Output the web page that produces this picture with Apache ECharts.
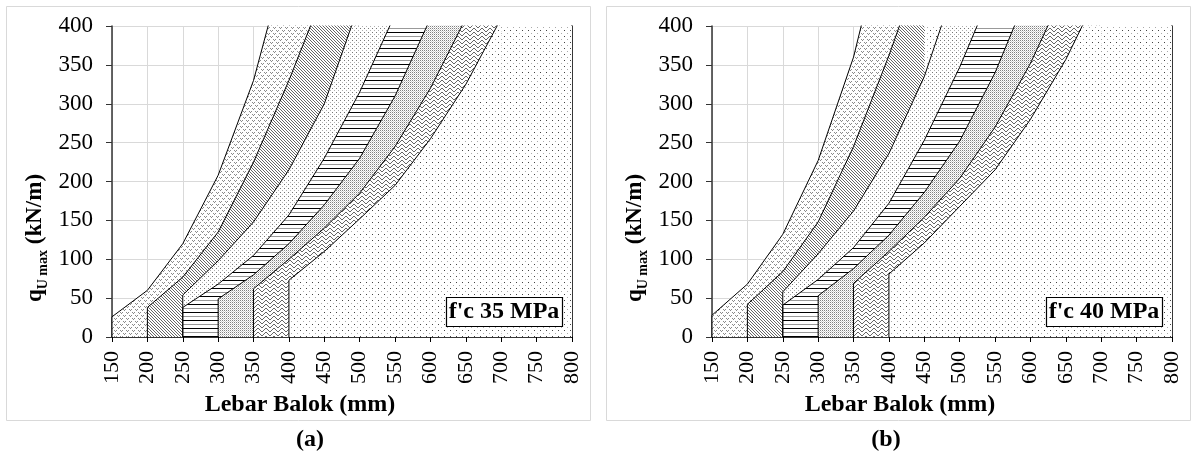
<!DOCTYPE html>
<html><head><meta charset="utf-8">
<script src="https://cdn.jsdelivr.net/npm/echarts@6/dist/echarts.min.js"></script>
<style>html,body{margin:0;padding:0;background:#fff}#c{width:1200px;height:456px}</style>
</head><body><div id="c"></div>
<script>
// axes
const X_MIN = 150, X_MAX = 800, X_STEP = 50;
const Y_MIN = 0, Y_MAX = 400, Y_STEP = 50;
const xAxisName = 'Lebar Balok (mm)';
const captions = ['(a)', '(b)'];
const boxLabels = ["f'c 35 MPa", "f'c 40 MPa"];

// panel (a) f'c 35 MPa : boundary curves [width mm, q kN/m]
const a1 = [[150,26],[200,60],[250,120],[300,208],[350,330],[400,500],[450,700]];
const a2 = [[200,38],[250,77],[300,135],[350,225],[400,330],[450,445],[500,580]];
const a3 = [[250,54],[300,98],[350,148],[400,215],[450,300],[500,430],[550,570]];
const a4 = [[250,38],[300,68],[350,105],[400,157],[450,230],[500,315],[550,415],[600,530]];
const a5 = [[300,49],[350,80],[400,120],[450,170],[500,230],[550,310],[600,410],[650,520]];
const a6 = [[350,62],[400,100],[450,140],[500,185],[550,245],[600,320],[650,410],[700,510]];
const a7 = [[400,73],[450,110],[500,152],[550,195],[600,255],[650,325],[700,410]];

// panel (b) f'c 40 MPa
const b1 = [[150,28],[200,68],[250,132],[300,227],[350,360],[400,545],[450,760]];
const b2 = [[200,42],[250,84],[300,148],[350,245],[400,362],[450,490]];
const b3 = [[250,58],[300,107],[350,162],[400,236],[450,335],[500,470],[550,620]];
const b4 = [[250,41],[300,74],[350,115],[400,172],[450,253],[500,347],[550,455],[600,580]];
const b5 = [[300,53],[350,88],[400,131],[450,186],[500,252],[550,340],[600,450],[650,570]];
const b6 = [[350,69],[400,110],[450,154],[500,204],[550,270],[600,352],[650,450],[700,560]];
const b7 = [[400,81],[450,121],[500,168],[550,215],[600,280],[650,357],[700,450]];

const FONT = '"Liberation Serif", "Times New Roman", serif';

function tile(w, h, draw) {
  const c = document.createElement('canvas');
  c.width = w; c.height = h;
  const g = c.getContext('2d');
  g.fillStyle = '#fff'; g.fillRect(0, 0, w, h);
  draw((x, y, col) => { g.fillStyle = col; g.fillRect(x, y, 1, 1); }, g);
  return { image: c, repeat: 'repeat' };
}
const patterns = [
  // R1 small v/x marks
  tile(6, 6, p => { [[0,0],[2,0],[1,1]].forEach(([x,y]) => { p(x,y,'#8a8a8a'); p(x+3,y+3,'#8a8a8a'); }); }),
  // R2 dense back-diagonal
  tile(3, 3, p => { p(0,0,'#666'); p(1,1,'#666'); p(2,2,'#666'); }),
  // R3 sparse dots
  tile(4, 4, p => { p(0,0,'#777'); p(2,2,'#b0b0b0'); }),
  // R4 horizontal lines
  tile(4, 8, (p, g) => { g.fillStyle = '#000'; g.fillRect(0,0,4,1); g.fillStyle = '#999'; g.fillRect(0,4,4,1); }),
  // R5 fine stipple
  tile(2, 2, p => { p(0,0,'#808080'); p(1,1,'#d0d0d0'); }),
  // R6 wave
  tile(8, 4, p => { [1,0,0,1,2,3,3,2].forEach((y,x) => p(x,y,'#666')); }),
  // R7 sparse dot grid
  tile(6, 6, p => { p(0,0,'#444'); p(3,3,'#aaa'); })
];

const panels = [
  { curves: [a1,a2,a3,a4,a5,a6,a7], left: 112 },
  { curves: [b1,b2,b3,b4,b5,b6,b7], left: 712 }
];

const grids = [], xAxes = [], yAxes = [], series = [], graphics = [];
panels.forEach((pn, g) => {
  grids.push({ left: pn.left, top: 26, width: 460, height: 311 });
  xAxes.push({
    type: 'value', gridIndex: g, min: X_MIN, max: X_MAX, interval: X_STEP,
    axisLine: { show: true, lineStyle: { color: '#000', width: 1.5 } },
    axisTick: { show: true, length: 5, lineStyle: { color: '#000' } },
    splitLine: { show: true, lineStyle: { color: '#d9d9d9', width: 1 } },
    axisLabel: { rotate: 90, margin: 14, fontSize: 22, fontFamily: FONT, color: '#000' }
  });
  yAxes.push({
    type: 'value', gridIndex: g, min: Y_MIN, max: Y_MAX, interval: Y_STEP,
    axisLine: { show: true, lineStyle: { color: '#333', width: 1.5 } },
    axisTick: { show: true, length: 6, lineStyle: { color: '#333' } },
    splitLine: { show: true, lineStyle: { color: '#d9d9d9', width: 1 } },
    axisLabel: { margin: 19, fontSize: 23, fontFamily: FONT, color: '#000' }
  });
  yAxes.push({
    type: 'value', gridIndex: g, position: 'right', min: Y_MIN, max: Y_MAX, interval: Y_STEP,
    axisLine: { show: true, lineStyle: { color: '#000', width: 1.5 } },
    axisTick: { show: false }, axisLabel: { show: false }, splitLine: { show: false }
  });
  pn.curves.forEach((c, k) => {
    const s = {
      type: 'line', xAxisIndex: g, yAxisIndex: g * 2, silent: true, clip: true,
      showSymbol: false, symbol: 'none', animation: false,
      data: [[c[0][0], Y_MIN]].concat(c),
      lineStyle: { color: '#000', width: 1 },
      areaStyle: { color: patterns[k], opacity: 1 },
      emphasis: { disabled: true }
    };
    if (k === pn.curves.length - 1) {
      s.markArea = {
        silent: true,
        itemStyle: { color: patterns[k], borderWidth: 0, opacity: 1 },
        data: [[{ xAxis: c[0][0], yAxis: Y_MIN }, { xAxis: X_MAX, yAxis: Y_MAX }]]
      };
    }
    series.push(s);
  });

  const ox = g * 600;
  graphics.push({ type: 'rect', z: 0, silent: true,
    shape: { x: ox + 6.5, y: 6.5, width: 584, height: 414 },
    style: { fill: null, stroke: '#d9d9d9', lineWidth: 1 } });
  graphics.push({ type: 'text', z: 100, x: ox + 35, y: 238, rotation: Math.PI / 2, silent: true,
    style: {
      text: '{m|q}{s|U max}{m| (kN/m)}', align: 'center', verticalAlign: 'middle',
      rich: {
        m: { fontFamily: FONT, fontWeight: 'bold', fontSize: 23, lineHeight: 30, verticalAlign: 'middle', fill: '#000' },
        s: { fontFamily: FONT, fontWeight: 'bold', fontSize: 14, lineHeight: 14, verticalAlign: 'bottom', fill: '#000' }
      }
    } });
  graphics.push({ type: 'text', z: 100, x: ox + 300, y: 405, silent: true,
    style: { text: xAxisName, align: 'center', verticalAlign: 'middle', fontFamily: FONT, fontWeight: 'bold', fontSize: 24, fill: '#000' } });
  graphics.push({ type: 'text', z: 100, x: ox + (g === 0 ? 310 : 286), y: 440, silent: true,
    style: { text: captions[g], align: 'center', verticalAlign: 'middle', fontFamily: FONT, fontWeight: 'bold', fontSize: 24, fill: '#000' } });
  graphics.push({ type: 'rect', z: 100, silent: true,
    shape: { x: ox + 446.5, y: 297.5, width: 116, height: 29 },
    style: { fill: '#fff', stroke: '#000', lineWidth: 1.2 } });
  graphics.push({ type: 'text', z: 101, x: ox + 504, y: 312, silent: true,
    style: { text: boxLabels[g], align: 'center', verticalAlign: 'middle', fontFamily: FONT, fontWeight: 'bold', fontSize: 24, fill: '#000' } });
});

const chart = echarts.init(document.getElementById('c'));
chart.setOption({
  animation: false,
  backgroundColor: '#fff',
  grid: grids, xAxis: xAxes, yAxis: yAxes, series: series,
  graphic: { elements: graphics }
});
</script></body></html>
